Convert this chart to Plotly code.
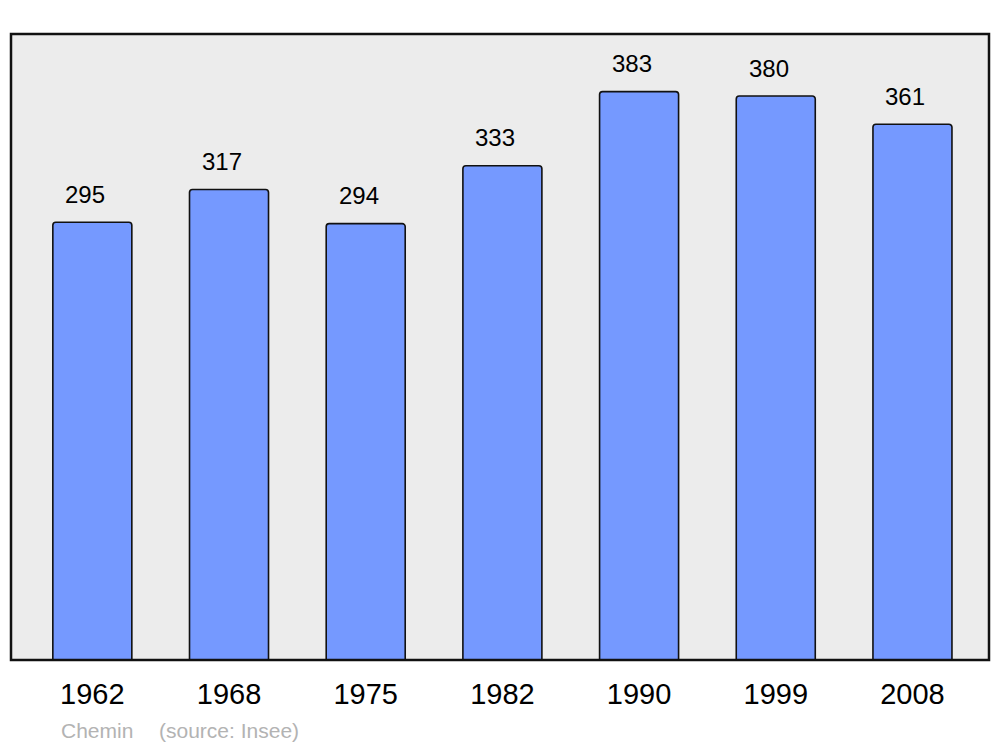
import plotly.graph_objects as go

years = ["1962", "1968", "1975", "1982", "1990", "1999", "2008"]
population = [295, 317, 294, 333, 383, 380, 361]
footer_left = "Chemin"
footer_right = "(source: Insee)"

xpos = list(range(len(years)))

fig = go.Figure()
fig.add_trace(go.Bar(
    x=xpos, y=population, width=0.578,
    marker=dict(color="#7599ff", line=dict(color="#111111", width=1.6), cornerradius=3),
    hoverinfo="skip",
))

for x, v in zip(xpos, population):
    fig.add_annotation(x=x, y=v, text=str(v), showarrow=False, xshift=-7, yshift=28,
                       font=dict(family="Liberation Sans, Arial", size=24, color="#000"))

fig.add_shape(type="rect", xref="paper", yref="paper", x0=0, x1=1, y0=0, y1=1,
              line=dict(color="#111111", width=2.5), layer="above")

fig.add_annotation(xref="paper", yref="paper", x=0.049, y=-0.112, xanchor="left", yanchor="middle",
                   text=footer_left, showarrow=False,
                   font=dict(family="Liberation Sans, Arial", size=21, color="#b3b3b3"))
fig.add_annotation(xref="paper", yref="paper", x=0.149, y=-0.112, xanchor="left", yanchor="middle",
                   text=footer_right, showarrow=False,
                   font=dict(family="Liberation Sans, Arial", size=21, color="#b3b3b3"))

fig.update_layout(
    width=992, height=739,
    margin=dict(l=3, r=11, t=26, b=87),
    paper_bgcolor="white", plot_bgcolor="#ececec",
    showlegend=False,
    xaxis=dict(range=[-0.595, 6.56], tickmode="array", tickvals=xpos, ticktext=years,
               showgrid=False, zeroline=False, ticks="", ticklabelstandoff=14,
               tickfont=dict(family="Liberation Sans, Arial", size=29, color="#000"),
               fixedrange=True),
    yaxis=dict(range=[0, 421.8], visible=False, showgrid=False, zeroline=False, fixedrange=True),
)

fig.write_html("out.html")
